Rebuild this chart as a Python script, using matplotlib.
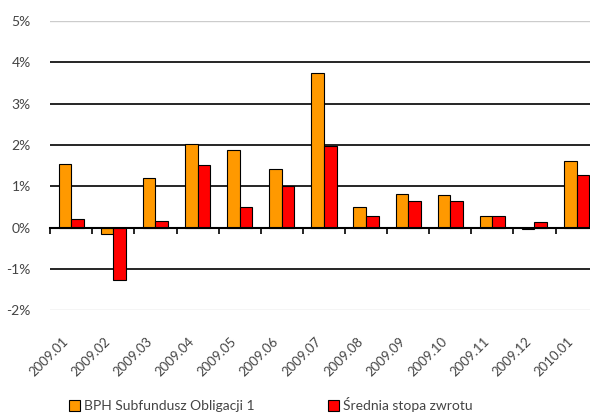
import matplotlib
matplotlib.use("Agg")
import matplotlib.pyplot as plt
from matplotlib.patches import Patch
import numpy as np

categories = ["2009.01", "2009.02", "2009.03", "2009.04", "2009.05", "2009.06", "2009.07",
              "2009.08", "2009.09", "2009.10", "2009.11", "2009.12", "2010.01"]
bph = [1.55, -0.15, 1.19, 2.03, 1.87, 1.42, 3.74, 0.51, 0.82, 0.78, 0.29, -0.04, 1.62]
avg = [0.20, -1.26, 0.16, 1.52, 0.51, 1.00, 1.98, 0.27, 0.65, 0.65, 0.29, 0.14, 1.27]
series_names = ["BPH Subfundusz Obligacji 1", "Średnia stopa zwrotu"]
yticks = [-2, -1, 0, 1, 2, 3, 4, 5]
ytick_labels = ["-2%", "-1%", "0%", "1%", "2%", "3%", "4%", "5%"]

plt.rcParams['font.family'] = ['Lato', 'DejaVu Sans']
text_color = "#444444"

fig = plt.figure(figsize=(5.90, 4.13), dpi=100)
ax = fig.add_axes([0.085, 0.249, 0.928, 0.700])

x = np.arange(len(categories))
w = 0.3
ax.bar(x - w / 2, bph, w, color="#FF9900", edgecolor="black", linewidth=0.8, zorder=3)
ax.bar(x + w / 2, avg, w, color="#FF0000", edgecolor="black", linewidth=0.8, zorder=3)

ax.set_xlim(-0.5, len(categories) - 0.5)
ax.set_ylim(-2, 5)

# gridlines
for yv in yticks:
    if yv == 0:
        continue
    if yv in (-2, 5):
        ax.axhline(yv, color="#cccccc", lw=1.0, zorder=1)
    else:
        ax.axhline(yv, color="black", lw=1.2, zorder=1)

for s in ["top", "right", "left"]:
    ax.spines[s].set_visible(False)
ax.spines["bottom"].set_position(("data", 0))
ax.spines["bottom"].set_linewidth(1.5)
ax.spines["bottom"].set_zorder(4)

ax.set_yticks(yticks)
ax.set_yticklabels(ytick_labels, color=text_color, fontsize=10)
ax.tick_params(axis="y", length=0, pad=14)

ax.set_xticks(x)
ax.set_xticklabels([])
ax.tick_params(axis="x", which="major", length=0)
ax.set_xticks(np.arange(len(categories) + 1) - 0.5, minor=True)
ax.tick_params(axis="x", which="minor", length=4, width=1.2, direction="out", color="black")

for i, c in enumerate(categories):
    ax.annotate(c, xy=(i, -2), xycoords="data", xytext=(-5, -29), textcoords="offset pixels",
                rotation=45, ha="right", va="center", rotation_mode="anchor",
                fontsize=9.5, color=text_color, annotation_clip=False)

handles = [Patch(facecolor="#FF9900", edgecolor="black", linewidth=0.8),
           Patch(facecolor="#FF0000", edgecolor="black", linewidth=0.8)]
fig.legend(handles, series_names, loc="center left", bbox_to_anchor=(0.095, 0.02),
           ncol=2, frameon=False, fontsize=10, handlelength=0.8, handleheight=0.8,
           handletextpad=0.3, columnspacing=5.3, labelcolor=text_color)

fig.savefig("out.png", dpi=100)
